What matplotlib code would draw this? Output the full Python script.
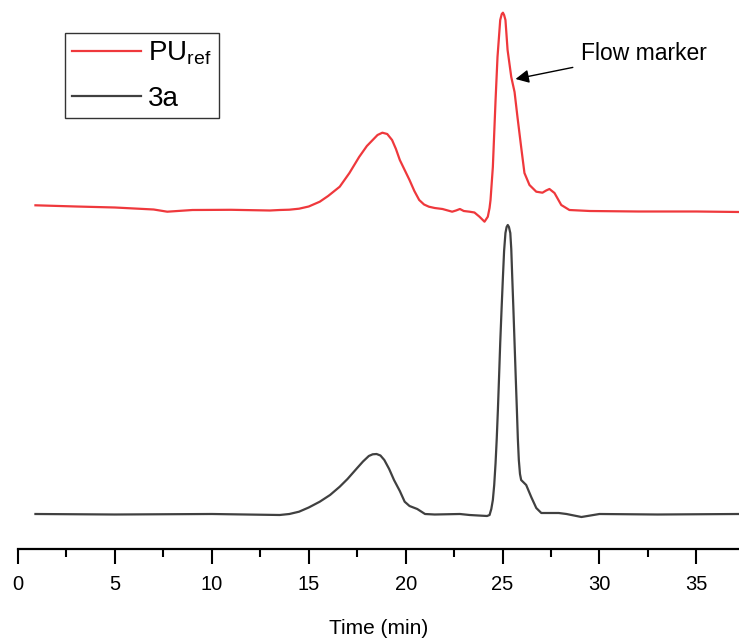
import matplotlib
matplotlib.use("Agg")
import matplotlib.pyplot as plt

plt.rcParams['font.family'] = ['Liberation Sans', 'DejaVu Sans']
plt.rcParams['mathtext.fontset'] = 'custom'
plt.rcParams['mathtext.rm'] = 'Liberation Sans'
plt.rcParams['mathtext.it'] = 'Liberation Sans:italic'

# ---- data (time in min, signal in arbitrary display units) ----
pu_ref_time = [0.9, 3, 5, 7, 7.7, 9, 11, 13, 13.5, 14.0, 14.5, 15.0, 15.57, 16.0, 16.6, 17.1,
               17.6, 18.0, 18.3, 18.55, 18.8, 19.05, 19.3, 19.5, 19.7, 19.95, 20.2, 20.45,
               20.7, 20.95, 21.2, 21.5, 21.9, 22.4, 22.6, 22.8, 23.0, 23.3, 23.55, 23.81,
               24.07, 24.24, 24.33, 24.38, 24.5, 24.64, 24.74, 24.88, 24.96, 25.02, 25.08,
               25.15, 25.26, 25.45, 25.62, 25.77, 25.96, 26.13, 26.39, 26.74, 27.06, 27.25,
               27.42, 27.68, 28.03, 28.45, 29.5, 32, 35, 37.2]
pu_ref_signal = [343.7, 342.5, 341.5, 339.5, 337.3, 339, 339.2, 338.5, 339, 339.3, 340.3, 342.5,
                 347.3, 353, 362.3, 376, 392, 403, 409, 414, 416.3, 415, 409, 400, 389, 379,
                 369, 358, 349, 344.5, 342.3, 341, 340, 337.3, 338.5, 340, 338, 337.3, 336.5,
                 332.3, 327.3, 332.3, 341, 349, 382, 449, 492, 529, 535, 536.3, 534, 529, 499,
                 472, 457, 432, 402, 376, 364, 357.3, 356.3, 358.5, 360, 356, 344, 339, 338,
                 337.5, 337.5, 337]

s3a_time = [0.9, 5, 10, 13.5, 14.0, 14.5, 15.0, 15.57, 16.1, 16.6, 17.0, 17.5, 17.8, 18.1,
            18.3, 18.5, 18.7, 18.9, 19.15, 19.4, 19.7, 19.95, 20.2, 20.6, 20.8, 21.0, 21.5,
            22.8, 23.3, 24.2, 24.33, 24.42, 24.5, 24.57, 24.64, 24.7, 24.76, 24.82, 24.88,
            24.95, 25.02, 25.08, 25.15, 25.21, 25.27, 25.33, 25.4, 25.45, 25.5, 25.56, 25.62,
            25.68, 25.74, 25.79, 25.84, 25.9, 25.96, 26.22, 26.48, 26.74, 27.0, 27.9, 28.3,
            29.07, 30, 33, 37.2]
s3a_signal = [35, 34.5, 35, 34, 35, 37.3, 41.5, 47.3, 54, 62.3, 70, 81, 87.5, 93, 94.7, 95,
              93.5, 89, 80, 69, 58, 47.3, 43, 40, 37.5, 35, 34.5, 35, 34, 33, 34, 40, 49, 64,
              86, 110, 139, 172, 206, 240, 272, 298, 316, 322, 324, 322, 316, 300, 272, 240,
              206, 172, 139, 110, 89, 75, 69, 64, 52, 41, 36, 36, 35, 32, 35, 34.5, 35]

x_ticks = [0, 5, 10, 15, 20, 25, 30, 35]
x_minor_ticks = [2.5, 7.5, 12.5, 17.5, 22.5, 27.5, 32.5]
x_label = "Time (min)"
legend_labels = [r'PU$_{\mathrm{ref}}$', '3a']
annotation_text = "Flow marker"

RED = '#EF383C'
GRAY = '#404040'

fig = plt.figure(figsize=(7.39, 6.41), dpi=100)
ax = fig.add_axes([18/739, 92/641, 721/739, 549/641])

ax.plot(pu_ref_time, pu_ref_signal, color=RED, lw=1.6, label=legend_labels[0])
ax.plot(s3a_time, s3a_signal, color=GRAY, lw=1.6, label=legend_labels[1])

ax.set_xlim(0, 37.2)
ax.set_ylim(0, 549)
for s in ['top', 'right', 'left']:
    ax.spines[s].set_visible(False)
ax.spines['bottom'].set_linewidth(1.6)
ax.set_yticks([])
ax.set_xticks(x_ticks)
ax.set_xticks(x_minor_ticks, minor=True)
ax.tick_params(axis='x', which='major', direction='out', length=11, width=1.5,
               labelsize=14.5, pad=8)
ax.tick_params(axis='x', which='minor', direction='out', length=6, width=1.5)
ax.set_xlabel(x_label, fontsize=15, labelpad=18)

ax.annotate(annotation_text, xy=(25.67, 470), xytext=(29.05, 496),
            fontsize=16.5, va='center', ha='left',
            arrowprops=dict(arrowstyle='-|>', color='black', lw=1.0,
                            mutation_scale=20, shrinkA=4, shrinkB=0))

leg = ax.legend(loc='upper left', bbox_to_anchor=(65/739, 1 - 33/641),
                bbox_transform=fig.transFigure, borderaxespad=0,
                fontsize=20, frameon=True, fancybox=False, handlelength=2.5,
                handletextpad=0.25, borderpad=0.25, labelspacing=0.65)
leg.get_frame().set_edgecolor('black')
leg.get_frame().set_linewidth(1.0)

fig.savefig('out.png', dpi=100)
